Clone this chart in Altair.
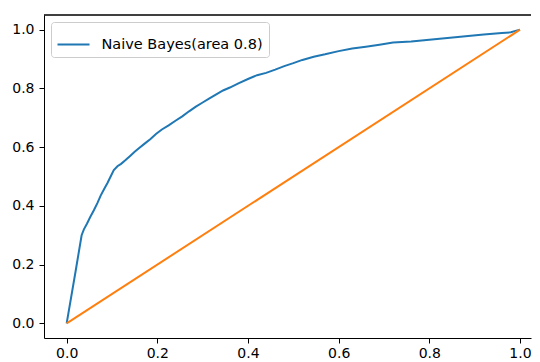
import altair as alt
import pandas as pd

LABEL = "Naive Bayes(area 0.8)"

fpr = [0.000, 0.020, 0.033, 0.038, 0.045, 0.052, 0.060, 0.068, 0.075, 0.083,
       0.090, 0.097, 0.104, 0.112, 0.120, 0.130, 0.140, 0.150, 0.160, 0.172,
       0.185, 0.197, 0.210, 0.225, 0.240, 0.255, 0.270, 0.285, 0.300, 0.315,
       0.330, 0.345, 0.360, 0.380, 0.400, 0.420, 0.440, 0.460, 0.480, 0.500,
       0.520, 0.545, 0.570, 0.600, 0.630, 0.660, 0.690, 0.720, 0.760, 0.800,
       0.840, 0.880, 0.920, 0.960, 0.980, 0.990, 1.000]
tpr = [0.000, 0.180, 0.300, 0.320, 0.340, 0.362, 0.385, 0.410, 0.435, 0.458,
       0.478, 0.500, 0.522, 0.535, 0.543, 0.556, 0.570, 0.584, 0.597, 0.612,
       0.628, 0.645, 0.660, 0.674, 0.690, 0.705, 0.722, 0.738, 0.752, 0.766,
       0.780, 0.793, 0.803, 0.818, 0.832, 0.845, 0.853, 0.864, 0.876, 0.886,
       0.897, 0.908, 0.916, 0.927, 0.936, 0.942, 0.949, 0.956, 0.960, 0.966,
       0.972, 0.978, 0.984, 0.989, 0.991, 0.996, 1.000]

diag_x = [0.0, 1.0]
diag_y = [0.0, 1.0]

tick_values = [0.0, 0.2, 0.4, 0.6, 0.8, 1.0]

roc = pd.DataFrame({"fpr": fpr, "tpr": tpr, "order": list(range(len(fpr))), "series": LABEL})
diag = pd.DataFrame({"x": diag_x, "y": diag_y})

W, H = 487, 323
FONT = "DejaVu Sans"

xs = alt.Scale(domain=[-0.05, 1.0243], nice=False, zero=False)
ys = alt.Scale(domain=[-0.05, 1.05], nice=False, zero=False)

xaxis = alt.Axis(values=tick_values, format=".1f", grid=False, title=None,
                 tickSize=5, labelPadding=3, domainColor="black", tickColor="black",
                 labelColor="black", labelFont=FONT, labelFontSize=14)
yaxis = alt.Axis(values=tick_values, format=".1f", grid=False, title=None,
                 tickSize=5, labelPadding=5, domainColor="black", tickColor="black",
                 labelColor="black", labelFont=FONT, labelFontSize=14)

blue = alt.Chart(roc).mark_line(strokeWidth=2).encode(
    x=alt.X("fpr:Q", scale=xs, axis=xaxis),
    y=alt.Y("tpr:Q", scale=ys, axis=yaxis),
    order="order:Q",
    color=alt.Color("series:N", scale=alt.Scale(domain=[LABEL], range=["#1f77b4"]),
                    legend=alt.Legend(title=None, orient="none", legendX=7, legendY=7,
                                      symbolType="stroke", symbolSize=1024,
                                      symbolStrokeWidth=2, labelOffset=11, labelLimit=400,
                                      labelFont=FONT, labelFontSize=14.5, labelColor="black",
                                      fillColor="white", strokeColor="#cccccc",
                                      cornerRadius=3, padding=5.5)),
)

orange = alt.Chart(diag).mark_line(strokeWidth=2, color="#ff7f0e").encode(
    x=alt.X("x:Q", scale=xs),
    y=alt.Y("y:Q", scale=ys),
)

top = alt.Chart(diag).mark_rule(color="black", strokeWidth=1).encode(
    x=alt.value(0), x2=alt.value(W), y=alt.value(0)
)

chart = alt.layer(blue, orange, top).properties(
    width=W, height=H,
    autosize=alt.AutoSizeParams(type="none"),
    padding={"left": 36, "top": 7, "right": 1, "bottom": 21},
).configure_view(stroke=None).configure_axis(domainWidth=1, tickWidth=1)

chart.save("out.html", embed_options={"renderer": "svg", "actions": False})
